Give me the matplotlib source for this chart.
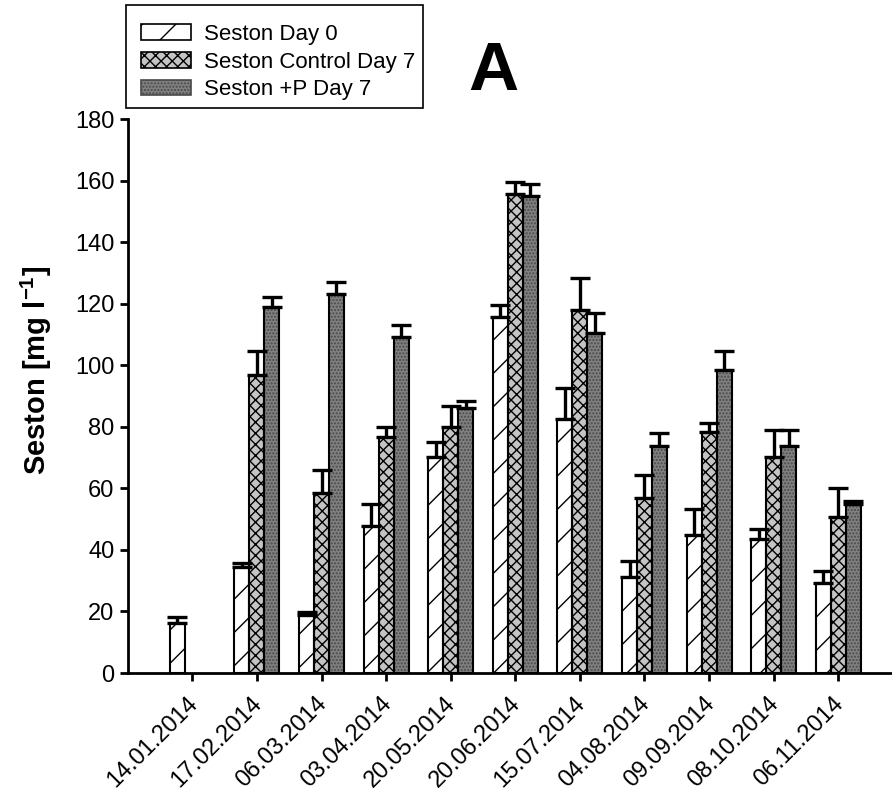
import matplotlib
matplotlib.use("Agg")
import matplotlib.pyplot as plt
import matplotlib.transforms as mtransforms
import numpy as np
from matplotlib.patches import Patch, Rectangle

plt.rcParams['font.family'] = ['Liberation Sans', 'DejaVu Sans']
plt.rcParams['mathtext.fontset'] = 'custom'
plt.rcParams['mathtext.rm'] = 'Liberation Sans'
plt.rcParams['mathtext.bf'] = 'Liberation Sans:bold'
plt.rcParams['hatch.linewidth'] = 1.0

dates = ["14.01.2014", "17.02.2014", "06.03.2014", "03.04.2014", "20.05.2014",
         "20.06.2014", "15.07.2014", "04.08.2014", "09.09.2014", "08.10.2014", "06.11.2014"]
day0 = [16.1, 34.3, 18.8, 47.9, 70.1, 115.8, 82.4, 31.1, 44.8, 43.4, 29.1]
day0_err = [2.0, 1.5, 1.1, 6.9, 5.0, 3.8, 10.1, 5.4, 8.4, 3.4, 4.0]
control = [np.nan, 96.8, 58.4, 76.8, 80.0, 155.6, 117.9, 56.8, 78.4, 70.1, 50.8]
control_err = [np.nan, 7.8, 7.6, 3.0, 6.8, 4.0, 10.3, 7.5, 2.9, 8.8, 9.2]
plusp = [np.nan, 119.0, 123.1, 109.1, 86.1, 155.0, 110.6, 73.8, 98.4, 73.8, 54.9]
plusp_err = [np.nan, 3.3, 4.0, 4.0, 2.4, 3.9, 6.3, 4.1, 6.3, 5.1, 1.1]

labels = ["Seston Day 0", "Seston Control Day 7", "Seston +P Day 7"]

W, H = 892, 801
fig = plt.figure(figsize=(W / 100, H / 100), dpi=100)
left = 127.7 / W
right_px = 902.9
bottom = (H - 673) / H
top = (H - 119) / H
ax = fig.add_axes([left, bottom, (right_px - 127.7) / W, top - bottom])

x = np.arange(len(dates))
w = 0.232
offsets = [-w, 0, w]
series = [day0, control, plusp]
errs = [day0_err, control_err, plusp_err]
faces = ['white', '#c4c4c4', '#808080']
hatches = ['/', 'xxx', '.....']
hcols = ['black', 'black', '#4a4a4a']

for s, e, off, fc, h, hc in zip(series, errs, offsets, faces, hatches, hcols):
    vals = np.array(s, dtype=float)
    ax.bar(x + off, vals, width=w, color=fc, edgecolor=hc, hatch=h, linewidth=0, zorder=2)
    ax.bar(x + off, vals, width=w, facecolor='none', edgecolor='black', linewidth=1.5, zorder=3)
    ee = np.array(e, dtype=float)
    ax.errorbar(x + off, vals, yerr=[np.zeros_like(ee), ee], fmt='none', ecolor='black',
                elinewidth=2.4, capsize=7.5, capthick=2.4, zorder=4)

ax.set_xlim(-1, 11)
ax.set_ylim(0, 180)
ax.set_yticks(np.arange(0, 181, 20))
ax.set_xticks(x)
ax.set_xticklabels(dates, rotation=45, ha='right', rotation_mode='anchor')
ax.tick_params(axis='both', labelsize=17, width=2, length=6, direction='out')
ax.tick_params(axis='x', pad=8)
shift = mtransforms.ScaledTranslation(-6 / 100, 0, fig.dpi_scale_trans)
for lab in ax.get_xticklabels():
    lab.set_transform(lab.get_transform() + shift)
for sp in ['top', 'right']:
    ax.spines[sp].set_visible(False)
for sp in ['left', 'bottom']:
    ax.spines[sp].set_linewidth(2)
ax.set_ylabel(r"Seston [mg l$^{\mathbf{-1}}$]", fontsize=21, fontweight='bold')
ax.yaxis.set_label_coords((54 - 127.7) / 775.2, (673 - 370) / 554)

fig.text(493 / W, 1 - 72 / H, "A", fontsize=50, fontweight='bold', ha='center', va='center')

handles = [Patch(facecolor=fc, edgecolor=hc, hatch=h, linewidth=1.2)
           for fc, h, hc in zip(faces, hatches, hcols)]
handles[0].set_edgecolor('black')
leg = fig.legend(handles, labels, loc='upper left', bbox_to_anchor=(141 / W, 1 - 24 / H),
                 borderaxespad=0, fontsize=16, frameon=False,
                 handlelength=2.25, handleheight=0.72, handletextpad=0.6, labelspacing=0.3,
                 borderpad=0)
fig.patches.append(Rectangle((126 / W, 1 - 108 / H), (423 - 126) / W, (108 - 5) / H,
                             transform=fig.transFigure, facecolor='none', edgecolor='black',
                             linewidth=1.2, zorder=5))

fig.savefig("out.png", dpi=100)
